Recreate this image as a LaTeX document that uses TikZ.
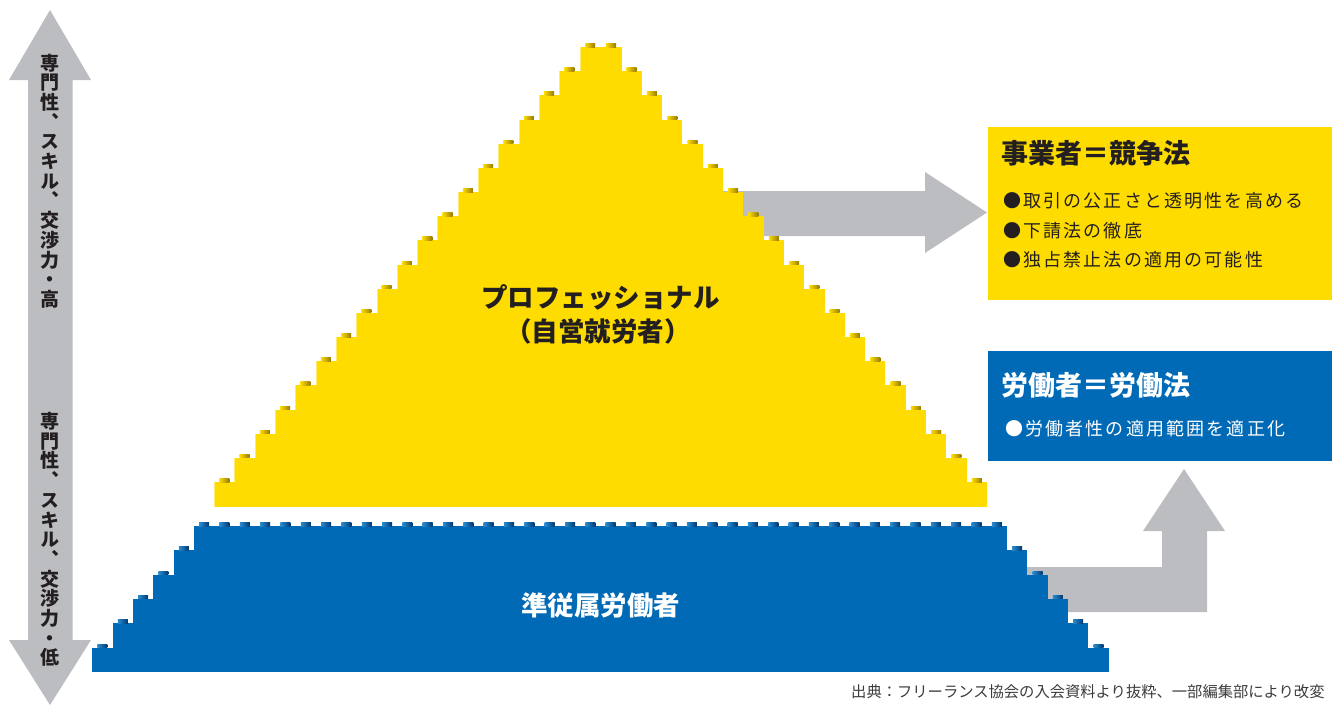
\documentclass[tikz,border=0pt]{standalone}
\usepackage{fontspec}
\setmainfont{Noto Sans CJK JP}
\newfontfamily\jp{Noto Sans CJK JP}
\newfontfamily\jpsp[LetterSpace=12]{Noto Sans CJK JP}
\newfontfamily\jpv[RawFeature=+vert]{Noto Sans CJK JP}
\definecolor{ylw}{RGB}{255,220,0}
\definecolor{ylwhi}{RGB}{255,236,110}
\definecolor{ylwdark}{RGB}{150,122,0}
\definecolor{blu}{RGB}{0,106,182}
\definecolor{bluhi}{RGB}{40,140,210}
\definecolor{bludark}{RGB}{0,55,110}
\definecolor{arrowgray}{RGB}{188,189,192}
\definecolor{ink}{RGB}{35,31,32}
\definecolor{capgray}{RGB}{60,60,60}
\tikzset{
  ystud/.style={left color=ylw, right color=ylwdark},
  bstud/.style={left color=bluhi, right color=bludark},
  bigjp/.style={font=\jp\bfseries\fontsize{26.5}{30}\selectfont, inner sep=0pt},
  boxtitle/.style={font=\jp\bfseries\fontsize{27}{30}\selectfont, inner sep=0pt, anchor=west},
  bullet/.style={font=\jpsp\fontsize{18}{20}\selectfont, inner sep=0pt, anchor=west},
  vtext/.style={font=\jpv\bfseries\fontsize{19}{19.7}\selectfont, align=center, inner sep=0pt, text=ink}
}
\begin{document}
\begin{tikzpicture}[x=1pt,y=-1pt]
\useasboundingbox (0,0) rectangle (1332,704);
\def\cx{600.5}
% gray arrows (behind)
\fill[arrowgray] (700,191) -- (925,191) -- (925,172) -- (987,212.5) -- (925,253) -- (925,236) -- (700,236) -- cycle;
\fill[arrowgray] (1000,567) -- (1162,567) -- (1162,531) -- (1143,531) -- (1184,469) -- (1225,531) -- (1207,531) -- (1207,612) -- (1000,612) -- cycle;
% left double arrow
\fill[arrowgray] (50,10) -- (91,80) -- (72.5,80) -- (72.5,640) -- (91,640) -- (50,705) -- (9,640) -- (28,640) -- (28,80) -- (9,80) -- cycle;
\node[vtext] (high) at (50,181) {専\\門\\性\\、\\ス\\キ\\ル\\、\\交\\渉\\力\\・\\高};
\node[vtext] (low) at (50,539.5) {専\\門\\性\\、\\ス\\キ\\ル\\、\\交\\渉\\力\\・\\低};
% yellow pyramid
\foreach \k in {0,...,18}{
  \pgfmathsetmacro\hw{21+20.3*\k}
  \pgfmathsetmacro\yt{47+24.17*\k}
  \fill[ylw] ({\cx-\hw},\yt) rectangle ({\cx+\hw},507);
}
\foreach \k in {0,...,18}{
  \pgfmathsetmacro\hw{21+20.3*\k}
  \pgfmathsetmacro\yt{47+24.17*\k}
  \pgfmathsetmacro\ybt{ifthenelse(\k==18,507,47+24.17*(\k+1))}
  \draw[ylwhi, line width=0.8pt] ({\cx-\hw+0.4},\yt) -- ({\cx-\hw+0.4},\ybt);
}
\foreach \k in {1,...,18}{
  \pgfmathsetmacro\hw{21+20.3*\k}
  \pgfmathsetmacro\yt{47+24.17*\k}
  \shade[ystud] ({\cx-\hw+5.15},{\yt-3.5}) rectangle ({\cx-\hw+15.15},\yt);
  \shade[ystud] ({\cx+\hw-15.15},{\yt-3.5}) rectangle ({\cx+\hw-5.15},\yt);
}
\shade[ystud] (585,43.5) rectangle (595,47);
\shade[ystud] (606,43.5) rectangle (616,47);
% blue trapezoid
\foreach \j in {0,...,5}{
  \pgfmathsetmacro\hw{406.5+20.35*\j}
  \pgfmathsetmacro\yt{526+24.3*\j}
  \fill[blu] ({\cx-\hw},\yt) rectangle ({\cx+\hw},672);
}
\foreach \i in {0,...,39}{
  \pgfmathsetmacro\xc{194+20.325*(\i+0.5)}
  \shade[bstud] ({\xc-5},522.5) rectangle ({\xc+5},526);
}
\foreach \j in {1,...,5}{
  \pgfmathsetmacro\hw{406.5+20.35*\j}
  \pgfmathsetmacro\yt{526+24.3*\j}
  \shade[bstud] ({\cx-\hw+5.17},{\yt-3.5}) rectangle ({\cx-\hw+15.17},\yt);
  \shade[bstud] ({\cx+\hw-15.17},{\yt-3.5}) rectangle ({\cx+\hw-5.17},\yt);
}
% pyramid labels
\node[bigjp, text=ink] (pro) at (600.5,297) {プロフェッショナル};
\node[bigjp, text=ink] (pro2) at (598,331) {（自営就労者）};
\node[bigjp, text=white] (semi) at (600.5,605) {準従属労働者};
% right boxes
\node[fill=ylw, minimum width=344pt, minimum height=173pt, anchor=north west, inner sep=0pt] (ybox) at (988,127) {};
\node[boxtitle, text=ink] (ytitle) at (1001,153) {事業者＝競争法};
\node[bullet, text=ink] (yb1) at (1003,201) {●取引の公正さと透明性を高める};
\node[bullet, text=ink] (yb2) at (1003,230.5) {●下請法の徹底};
\node[bullet, text=ink] (yb3) at (1003,260) {●独占禁止法の適用の可能性};
\node[fill=blu, minimum width=344pt, minimum height=110pt, anchor=north west, inner sep=0pt] (bbox) at (988,351) {};
\node[boxtitle, text=white] (btitle) at (1001,385) {労働者＝労働法};
\node[bullet, text=white] (bb1) at (1005,429) {●労働者性の適用範囲を適正化};
% caption
\node[font=\jp\fontsize{15.3}{17}\selectfont, text=capgray, anchor=west, inner sep=0pt] (src) at (851,692) {出典：フリーランス協会の入会資料より抜粋、一部編集部により改変};
\end{tikzpicture}
\end{document}
